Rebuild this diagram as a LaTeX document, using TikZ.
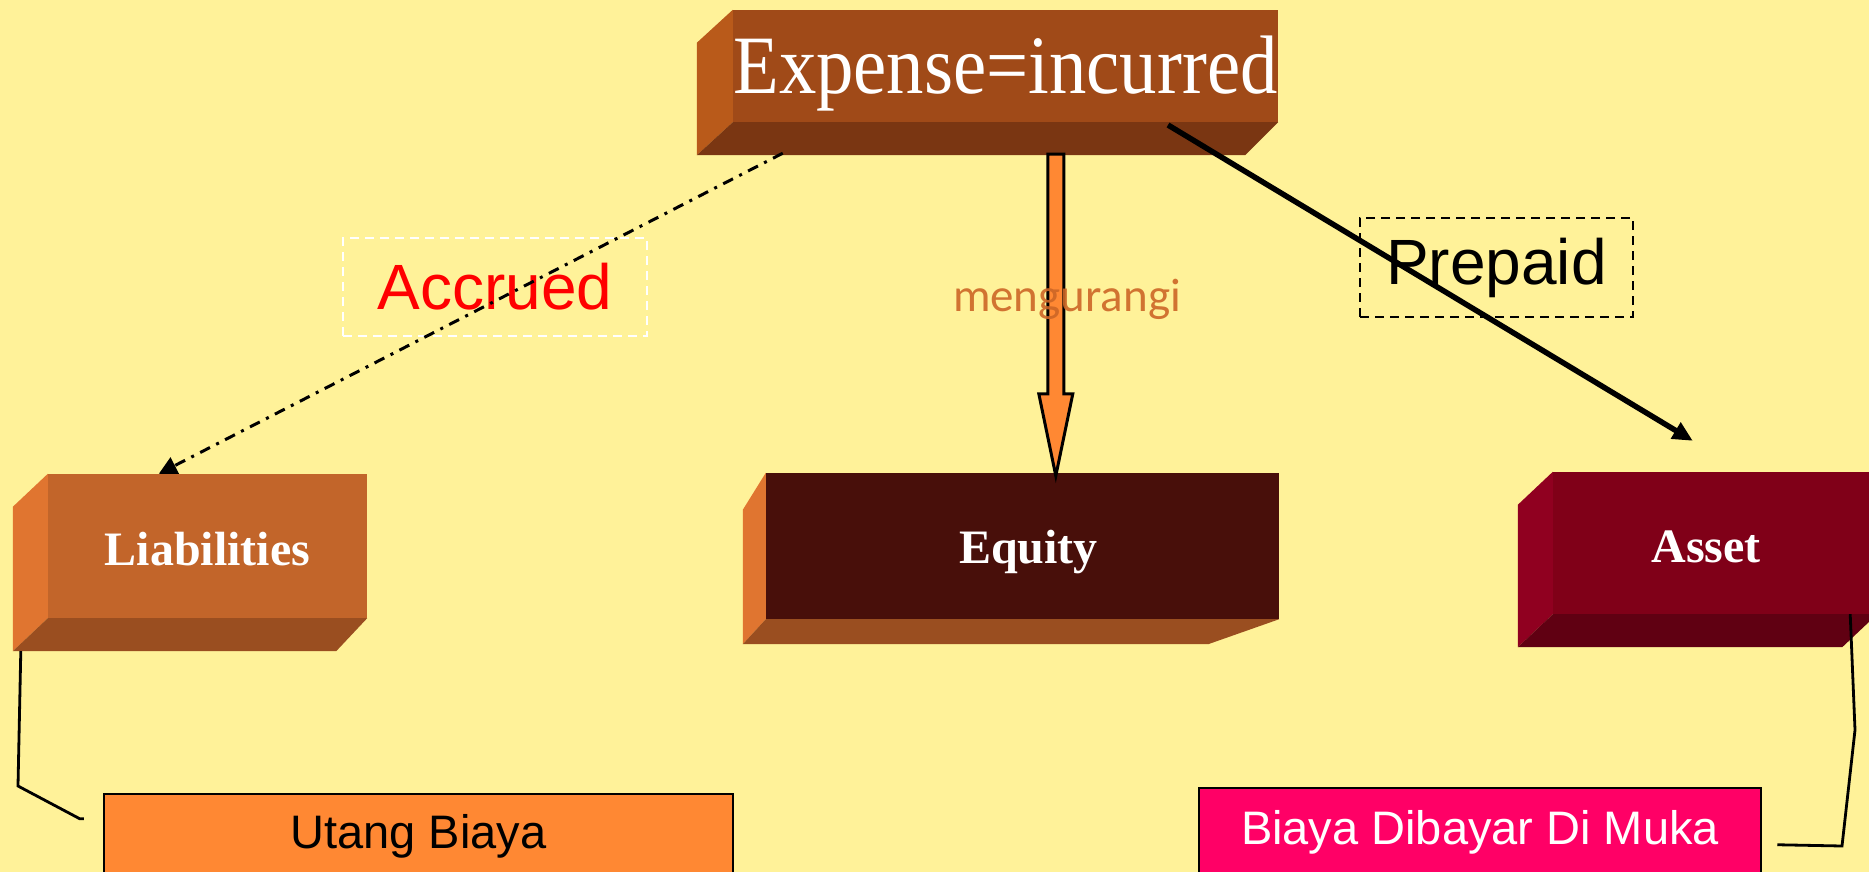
\documentclass[tikz,border=0pt]{standalone}
\usepackage{fontspec}
\setmainfont{Liberation Serif}
\newfontfamily\arialf{Liberation Sans}
\newfontfamily\calibrif{Carlito}
\newfontfamily\expf[FakeStretch=0.9]{Liberation Serif}
\usetikzlibrary{calc,arrows.meta}
\definecolor{bg}{RGB}{255,242,153}
\definecolor{expfront}{RGB}{160,74,24}
\definecolor{expleft}{RGB}{185,90,26}
\definecolor{expbot}{RGB}{122,54,18}
\definecolor{liabfront}{RGB}{194,101,42}
\definecolor{liableft}{RGB}{224,117,48}
\definecolor{liabbot}{RGB}{154,78,32}
\definecolor{eqfront}{RGB}{72,15,10}
\definecolor{asfront}{RGB}{128,0,24}
\definecolor{asleft}{RGB}{144,0,32}
\definecolor{asbot}{RGB}{96,0,18}
\definecolor{orfill}{RGB}{255,136,51}
\definecolor{pinkfill}{RGB}{255,0,102}
\definecolor{mengcol}{RGB}{204,102,38}
\newcommand{\lowerby}[2]{\raisebox{-#1}[\height][\depth]{#2}}
\tikzset{
  frontface/.style={rectangle, inner sep=0pt, text=white},
  boldlabel/.style={font=\bfseries\fontsize{48}{58}\selectfont},
  tagbox/.style={rectangle, inner sep=0pt, line width=2.5pt, dash pattern=on 9pt off 6pt, font=\arialf\fontsize{64}{76}\selectfont},
  notebox/.style={rectangle, inner sep=0pt, draw=black, line width=2.5pt, font=\arialf\fontsize{47}{56}\selectfont},
  thinline/.style={draw=black, line width=2.8pt},
}
\begin{document}
\begin{tikzpicture}[x=1pt,y=-1pt]
\fill[bg] (0,0) rectangle (1869,872);
\useasboundingbox (0,0) rectangle (1869,872);
\clip (0,0) rectangle (1869,872);

% Expense box
\node[frontface, fill=expfront, minimum width=545pt, minimum height=112pt,
      font=\expf\fontsize{83}{96}\selectfont] (exp) at (1005.5,66) {\lowerby{8pt}{Expense=incurred}};
\fill[expleft] (exp.north west) -- (exp.south west) -- ($(exp.south west)+(-36,33)$) -- ($(exp.north west)+(-36,33)$) -- cycle;
\fill[expbot] (exp.south west) -- (exp.south east) -- ($(exp.south east)+(-33,33)$) -- ($(exp.south west)+(-36,33)$) -- cycle;

% Liabilities box
\node[frontface, boldlabel, fill=liabfront, minimum width=319pt, minimum height=144pt] (liab) at (207.5,546) {\lowerby{3pt}{Liabilities}};
\fill[liableft] (liab.north west) -- (liab.south west) -- ($(liab.south west)+(-35,33)$) -- ($(liab.north west)+(-35,33)$) -- cycle;
\fill[liabbot] (liab.south west) -- (liab.south east) -- ($(liab.south east)+(-31,33)$) -- ($(liab.south west)+(-35,33)$) -- cycle;

% Equity box
\node[frontface, boldlabel, fill=eqfront, minimum width=513pt, minimum height=146pt] (eq) at (1022.5,546) {\hspace*{12pt}\lowerby{6pt}{Equity}};
\fill[liableft] (eq.north west) -- (eq.south west) -- ($(eq.south west)+(-23,25)$) -- ($(eq.north west)+(-23,37)$) -- cycle;
\fill[liabbot] (eq.south west) -- (eq.south east) -- ($(eq.south east)+(-71,25)$) -- ($(eq.south west)+(-23,25)$) -- cycle;

% Asset box
\node[frontface, boldlabel, fill=asfront, minimum width=324pt, minimum height=142pt] (asset) at (1715,543) {\hspace*{-18pt}\lowerby{4pt}{Asset}};
\fill[asleft] (asset.north west) -- (asset.south west) -- ($(asset.south west)+(-35,33)$) -- ($(asset.north west)+(-35,33)$) -- cycle;
\fill[asbot] (asset.south west) -- (asset.south east) -- ($(asset.south east)+(-35,33)$) -- ($(asset.south west)+(-35,33)$) -- cycle;

% Label boxes
\node[tagbox, draw=white, text=red, minimum width=304pt, minimum height=98pt] (acc) at (495,287) {Accrued};
\node[tagbox, draw=black, text=black, minimum width=273pt, minimum height=99pt] (pre) at (1496.5,267.5) {Prepaid};

% Accrued connector (dash-dot)
\coordinate (accS) at ($(exp.south west)+(50,31)$);
\coordinate (accE) at ($(liab.north west)+(111,0)$);
\draw[line width=3pt, dash pattern=on 11pt off 7pt on 3pt off 7pt, -{Triangle[length=18pt,width=18pt]}] (accS) -- (accE);

% Prepaid connector
\coordinate (preS) at (1168,125);
\coordinate (preE) at ($(asset.north west)+(140,-31)$);
\draw[line width=5.5pt, -{Triangle[length=20pt,width=18pt]}] (preS) -- (preE);

% mengurangi block arrow
\coordinate (mtop) at ($(exp.south west)+(323,32)$);
\coordinate (mtip) at ($(eq.north west)+(290,3)$);
\filldraw[fill=orfill, draw=black, line width=3pt, line join=miter]
  ($(mtop)+(-8,0)$) -- ($(mtop)+(8,0)$) -- ($(mtip)+(8,-82)$) -- ($(mtip)+(17,-82)$) -- (mtip)
  -- ($(mtip)+(-17,-82)$) -- ($(mtip)+(-8,-82)$) -- cycle;
\node[font=\calibrif\fontsize{47}{56}\selectfont, text=mengcol, opacity=0.9, anchor=base, inner sep=0pt] (meng) at (1067,311) {mengurangi};

% Bottom boxes
\node[notebox, fill=orfill, text=black, minimum width=629pt, minimum height=84pt] (utang) at (418.5,836) {Utang Biaya};
\node[notebox, fill=pinkfill, text=white, minimum width=562pt, minimum height=88pt] (biaya) at (1480,832) {Biaya Dibayar Di Muka};

% Bracket connectors
\coordinate (l1) at ($(liab.south west)+(-27,33)$);
\coordinate (l2) at (18,786);
\coordinate (l3) at ($(utang.north west)+(-23,26)$);
\draw[thinline] (l1) -- (l2) -- (l3) -- ++(4,0);
\coordinate (a1) at ($(asset.south east)+(-27,0)$);
\coordinate (a2) at (1855,730);
\coordinate (a3) at (1842,846);
\coordinate (a4) at ($(biaya.north east)+(15,58)$);
\draw[thinline] (a1) -- (a2) -- (a3) -- (a4);
\end{tikzpicture}
\end{document}
